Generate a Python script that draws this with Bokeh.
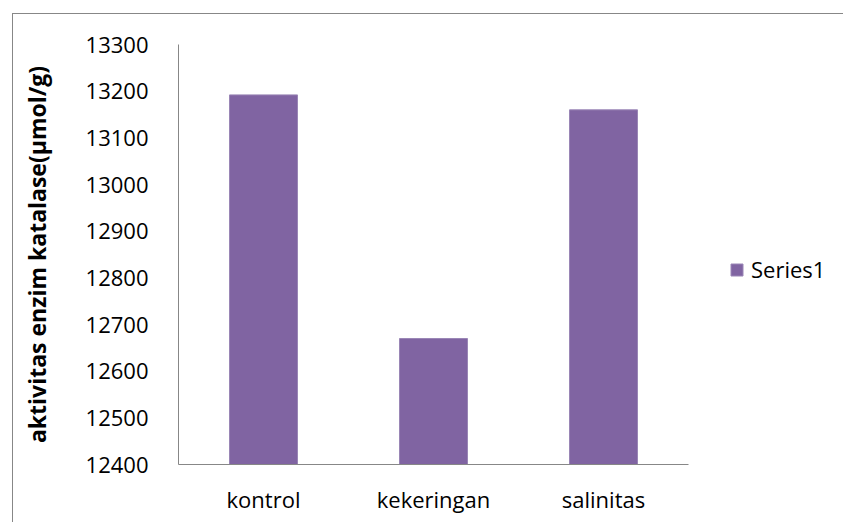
from bokeh.plotting import figure
from bokeh.models import Range1d, Legend, LegendItem, FixedTicker, ColumnDataSource
from bokeh.embed import file_html
from bokeh.resources import INLINE

categories = ["kontrol", "kekeringan", "salinitas"]
values = [13192, 12670, 13160]
series_name = "Series1"
y_min, y_max = 12400, 13300
y_ticks = [12400, 12500, 12600, 12700, 12800, 12900, 13000, 13100, 13200, 13300]
y_title = "aktivitas enzim katalase(µmol/g)"

FONT = "Open Sans"
GREY = "#878787"
BAR = "#8064A2"

n = len(categories)
xpos = [i + 0.5 for i in range(n)]
src = ColumnDataSource(dict(x=xpos, val=values, cat=categories))

FIG_W, FIG_H = 831, 509
LEFT, RIGHT = 165, 0
CAT_PX = 170.0
frame_w = FIG_W - LEFT - RIGHT

p = figure(
    width=FIG_W, height=FIG_H,
    x_range=Range1d(0, frame_w / CAT_PX),
    y_range=Range1d(y_min, y_max),
    output_backend="svg", toolbar_location=None,
    min_border_left=LEFT, min_border_right=RIGHT, min_border_top=30, min_border_bottom=59,
)
p.margin = (13, 0, 0, 12)
p.styles = {"border-left": "1px solid " + GREY, "border-top": "1px solid " + GREY}
p.outline_line_color = None
p.xgrid.grid_line_color = None
p.ygrid.grid_line_color = None

r = p.vbar(x="x", top="val", bottom=y_min, width=0.4, source=src,
           fill_color=BAR, line_color="#9A86B6", line_width=1)

yax = p.yaxis[0]
yax.ticker = FixedTicker(ticks=y_ticks)
yax.axis_line_color = GREY
yax.major_tick_line_color = None
yax.minor_tick_line_color = None
yax.major_tick_out = 0
yax.major_label_standoff = 30
yax.major_label_text_font = FONT
yax.major_label_text_font_size = "22px"
yax.major_label_text_color = "#000000"
yax.axis_label = y_title
yax.axis_label_text_font = FONT
yax.axis_label_text_font_style = "bold"
yax.axis_label_text_font_size = "23px"
yax.axis_label_text_color = "#000000"
yax.axis_label_standoff = 30

xax = p.xaxis[0]
xax.bounds = (0, n)
xax.ticker = FixedTicker(ticks=xpos)
xax.major_label_overrides = {x: c for x, c in zip(xpos, categories)}
xax.axis_line_color = GREY
xax.major_tick_line_color = None
xax.minor_tick_line_color = None
xax.major_tick_out = 0
xax.major_label_standoff = 19
xax.major_label_text_font = FONT
xax.major_label_text_font_size = "22px"
xax.major_label_text_color = "#000000"

legend = Legend(items=[LegendItem(label=series_name, renderers=[r])],
                location=(551, 180), orientation="vertical",
                padding=0, margin=0, border_line_color=None,
                background_fill_alpha=0, glyph_width=15, glyph_height=15,
                label_standoff=7, label_text_font=FONT, label_text_font_size="22px",
                label_text_color="#000000")
p.add_layout(legend, "center")

open("out.html", "w").write(file_html(p, INLINE))
